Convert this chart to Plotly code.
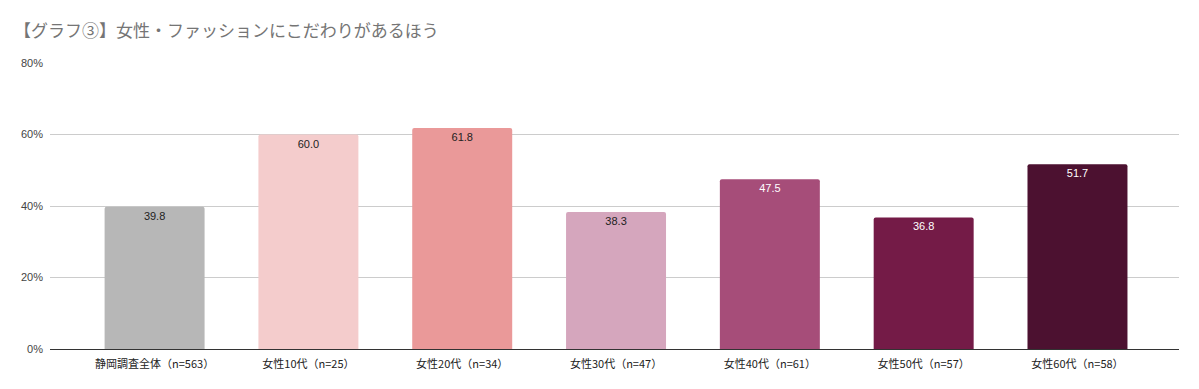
import plotly.graph_objects as go

categories = ["静岡調査全体（n=563）", "女性10代（n=25）", "女性20代（n=34）", "女性30代（n=47）",
              "女性40代（n=61）", "女性50代（n=57）", "女性60代（n=58）"]
values = [39.8, 60.0, 61.8, 38.3, 47.5, 36.8, 51.7]
colors = ["#b7b7b7", "#f4cccc", "#ea9999", "#d5a6bd", "#a64d79", "#741b47", "#4c1130"]
text_colors = ["#222222", "#222222", "#222222", "#222222", "#ffffff", "#ffffff", "#ffffff"]
yticks = [0, 20, 40, 60, 80]
ytick_labels = ["0%", "20%", "40%", "60%", "80%"]

font_family = "Liberation Sans, Arial, Noto Sans CJK JP, sans-serif"

fig = go.Figure(go.Bar(
    x=list(range(len(categories))),
    y=values,
    marker=dict(color=colors, line=dict(width=0), cornerradius=2),
    width=0.65,
    text=[f"{v:.1f}" for v in values],
    texttemplate="%{text}",
    textposition="inside",
    insidetextanchor="end",
    textangle=0,
    textfont=dict(size=11, color=text_colors, family=font_family),
    hoverinfo="skip",
))

fig.update_layout(
    width=1199, height=389,
    margin=dict(l=50, r=20, t=63, b=40, autoexpand=False),
    paper_bgcolor="white", plot_bgcolor="white",
    showlegend=False,
    title=dict(text="【グラフ③】女性・ファッションにこだわりがあるほう",
               x=14/1199, xref="container", xanchor="left",
               y=1-31/389, yref="container", yanchor="middle",
               font=dict(size=17, color="#757575", family="Noto Sans CJK JP, sans-serif")),
    xaxis=dict(
        tickmode="array", tickvals=list(range(len(categories))), ticktext=categories,
        range=[-0.68, 6.66], showgrid=False, zeroline=False,
        showline=True, linecolor="#333333", linewidth=1,
        ticks="", ticklabelstandoff=5,
        tickfont=dict(size=11, color="#222222", family="Noto Sans CJK JP, sans-serif"),
        fixedrange=True, automargin=False,
    ),
    yaxis=dict(
        range=[0, 80], tickmode="array", tickvals=yticks, ticktext=ytick_labels,
        showgrid=True, gridcolor="#cccccc", gridwidth=1, zeroline=False,
        tickfont=dict(size=11, color="#444444", family=font_family),
        ticks="", ticklabelstandoff=6, fixedrange=True, automargin=False,
    ),
    bargap=0.35,
)

fig.write_html("out.html", config={"displayModeBar": False},
               post_script="document.body.style.margin='0';document.body.style.overflow='hidden';")
